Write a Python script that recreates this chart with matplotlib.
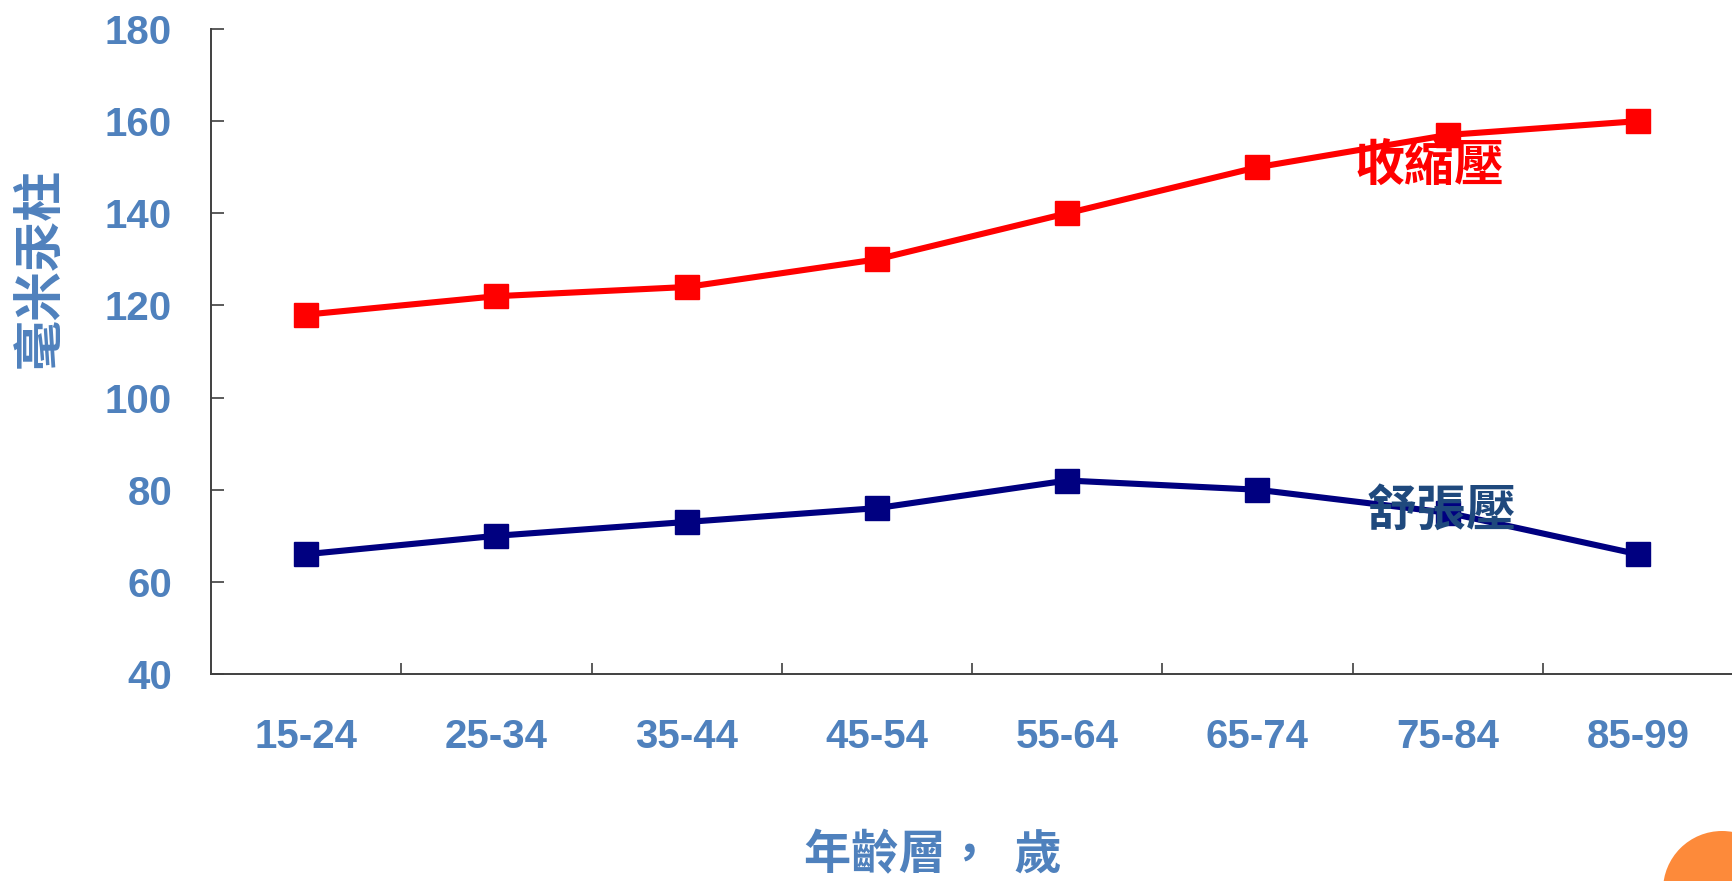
import matplotlib
matplotlib.use("Agg")
import matplotlib.pyplot as plt
from matplotlib.patches import Ellipse

categories = ["15-24", "25-34", "35-44", "45-54", "55-64", "65-74", "75-84", "85-99"]
systolic = [118, 122, 124, 130, 140, 150, 157, 160]
diastolic = [66, 70, 73, 76, 82, 80, 75, 66]
yticks = [40, 60, 80, 100, 120, 140, 160, 180]
series_labels = ["收縮壓", "舒張壓"]
ylabel_text = "毫米汞柱"
xlabel_text = "年齡層，  歲"

W, H = 1732, 881
fig = plt.figure(figsize=(W / 100, H / 100), dpi=100)
ax = fig.add_axes([211 / W, 1 - 674 / H, (1733 - 211) / W, (674 - 29) / H])

x = list(range(len(categories)))
ax.plot(x, systolic, color="#FF0000", lw=4.4, marker="s", ms=17, mec="#FF0000", mfc="#FF0000",
        solid_joinstyle="round", zorder=3)
ax.plot(x, diastolic, color="#000080", lw=4.4, marker="s", ms=17, mec="#000080", mfc="#000080",
        solid_joinstyle="round", zorder=3)

ax.set_xlim(-0.5, len(categories) - 0.5)
ax.set_ylim(40, 180)
ax.set_yticks(yticks)
ax.set_yticklabels([str(v) for v in yticks])
ax.set_xticks(x)
ax.set_xticklabels(categories)
ax.set_xticks([i + 0.5 for i in range(len(categories) - 1)], minor=True)

tick_color = "#4F81BD"
for lab in ax.get_yticklabels() + ax.get_xticklabels():
    lab.set_fontfamily("Liberation Sans")
    lab.set_fontweight("bold")
    lab.set_fontsize(29)
    lab.set_color(tick_color)

ax.tick_params(axis="y", direction="in", length=9, width=1.2, color="#404040", pad=28)
ax.tick_params(axis="x", which="major", length=0, pad=32)
ax.tick_params(axis="x", which="minor", direction="in", length=8, width=1.2, color="#404040")

for s in ["top", "right"]:
    ax.spines[s].set_visible(False)
for s in ["left", "bottom"]:
    ax.spines[s].set_color("#404040")
    ax.spines[s].set_linewidth(1.4)

cjk = ["Noto Sans CJK TC", "DejaVu Sans"]
ax.text(5.906, 150.2, series_labels[0], color="#FF0000", fontsize=36, family=cjk,
        fontweight="bold", ha="center", va="center", zorder=4)
ax.text(5.97, 75.4, series_labels[1], color="#1F497D", fontsize=36, family=cjk,
        fontweight="bold", ha="center", va="center", zorder=4)

fig.text(40 / W, 1 - 268 / H, ylabel_text, rotation=90, color=tick_color, fontsize=36,
         family=cjk, fontweight="bold", ha="center", va="center")
fig.text(933 / W, 1 - 855 / H, xlabel_text, color=tick_color, fontsize=34,
         family=cjk, fontweight="bold", ha="center", va="center")

circ = Ellipse((1722 / W, 1 - 890 / H), 118 / W, 118 / H, transform=fig.transFigure,
               facecolor="#FD8A3A", edgecolor="none", clip_on=False)
fig.patches.append(circ)

fig.savefig("out.png", dpi=100)
